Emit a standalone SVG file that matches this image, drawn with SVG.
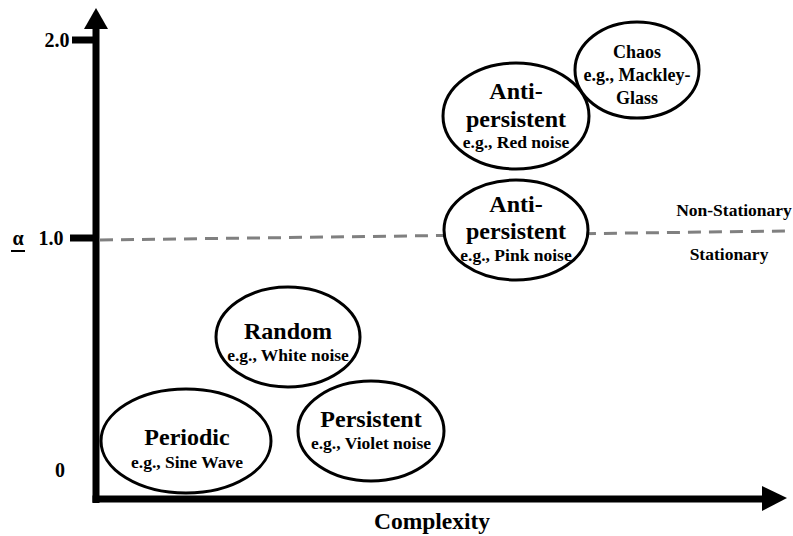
<svg xmlns="http://www.w3.org/2000/svg" width="793" height="536" viewBox="0 0 793 536">
<style>
.n{fill:#fff;stroke:#000;stroke-width:3}
text{font-family:"Liberation Serif","Times New Roman",serif;font-weight:bold;fill:#000;text-anchor:middle}
.t{font-size:24px}
.s{font-size:17.5px}
.c{font-size:18px}
.ax{font-size:20px}
.st{font-size:17.5px}
</style>
<rect width="793" height="536" fill="#fff"/>
<g id="axes">
<line x1="96" y1="26" x2="96" y2="503" stroke="#000" stroke-width="7"/>
<polygon points="96,8 84,29 108,29" fill="#000"/>
<line x1="92.5" y1="499" x2="764" y2="499" stroke="#000" stroke-width="7"/>
<polygon points="787,498 762,486 762,511" fill="#000"/>
<line x1="72" y1="40" x2="96" y2="40" stroke="#000" stroke-width="7"/>
<line x1="70" y1="238" x2="96" y2="238" stroke="#000" stroke-width="7"/>
<text class="ax" x="57" y="47">2.0</text>
<text class="ax" x="51" y="245">1.0</text>
<text class="ax" x="18" y="245">α</text>
<line x1="11" y1="251" x2="25" y2="251" stroke="#000" stroke-width="2"/>
<text class="ax" x="60" y="477">0</text>
<text x="432" y="529" style="font-size:23.5px">Complexity</text>
</g>
<g id="connectors">
<line x1="100" y1="240" x2="786" y2="231" stroke="#808080" stroke-width="3" stroke-dasharray="13,8"/>
</g>
<text class="st" x="734" y="216">Non-Stationary</text>
<text class="st" x="729" y="260">Stationary</text>
<g id="periodic">
<ellipse class="n" cx="186" cy="441" rx="85" ry="52"/>
<text class="t" x="187" y="445">Periodic</text>
<text class="s" x="187" y="468">e.g., Sine Wave</text>
</g>
<g id="random">
<ellipse class="n" cx="288" cy="337" rx="72" ry="50"/>
<text class="t" x="288" y="339">Random</text>
<text class="s" x="288" y="361">e.g., White noise</text>
</g>
<g id="persistent">
<ellipse class="n" cx="371" cy="431" rx="73" ry="50"/>
<text class="t" x="371" y="427">Persistent</text>
<text class="s" x="371" y="449">e.g., Violet noise</text>
</g>
<g id="anti-red">
<ellipse class="n" cx="516" cy="116" rx="73" ry="53"/>
<text class="t" x="516" y="99">Anti-</text>
<text class="t" x="516" y="127">persistent</text>
<text class="s" x="516" y="148">e.g., Red noise</text>
</g>
<g id="chaos">
<ellipse class="n" cx="637" cy="70" rx="62" ry="48"/>
<text class="c" x="637" y="58">Chaos</text>
<text class="c" x="637" y="81">e.g., Mackley-</text>
<text class="c" x="637" y="104">Glass</text>
</g>
<g id="anti-pink">
<ellipse class="n" cx="516" cy="230" rx="72" ry="50"/>
<text class="t" x="516" y="212">Anti-</text>
<text class="t" x="516" y="239">persistent</text>
<text class="s" x="516" y="261">e.g., Pink noise</text>
</g>
</svg>
